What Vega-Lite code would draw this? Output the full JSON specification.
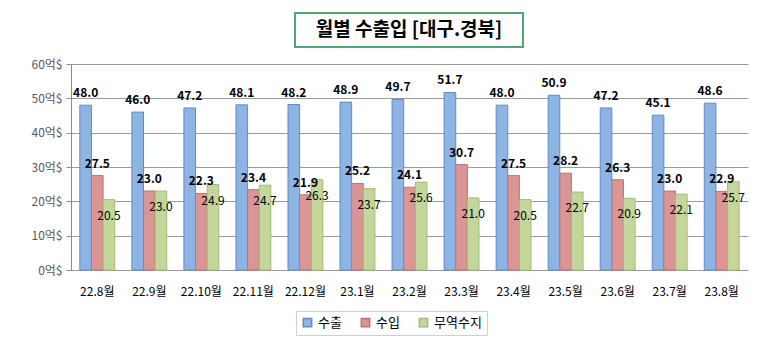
{
  "$schema": "https://vega.github.io/schema/vega-lite/v6.json",
  "background": "white",
  "padding": {"top": 12, "left": 30, "right": 5, "bottom": 5},
  "config": {"font": "Noto Sans CJK KR", "view": {"stroke": null}},
  "datasets": {
    "title": [{"t": "월별 수출입 [대구.경북]"}],
    "main": [
      {"month": "22.8월", "type": "수출", "value": 48.0},
      {"month": "22.8월", "type": "수입", "value": 27.5},
      {"month": "22.8월", "type": "무역수지", "value": 20.5},
      {"month": "22.9월", "type": "수출", "value": 46.0},
      {"month": "22.9월", "type": "수입", "value": 23.0},
      {"month": "22.9월", "type": "무역수지", "value": 23.0},
      {"month": "22.10월", "type": "수출", "value": 47.2},
      {"month": "22.10월", "type": "수입", "value": 22.3},
      {"month": "22.10월", "type": "무역수지", "value": 24.9},
      {"month": "22.11월", "type": "수출", "value": 48.1},
      {"month": "22.11월", "type": "수입", "value": 23.4},
      {"month": "22.11월", "type": "무역수지", "value": 24.7},
      {"month": "22.12월", "type": "수출", "value": 48.2},
      {"month": "22.12월", "type": "수입", "value": 21.9},
      {"month": "22.12월", "type": "무역수지", "value": 26.3},
      {"month": "23.1월", "type": "수출", "value": 48.9},
      {"month": "23.1월", "type": "수입", "value": 25.2},
      {"month": "23.1월", "type": "무역수지", "value": 23.7},
      {"month": "23.2월", "type": "수출", "value": 49.7},
      {"month": "23.2월", "type": "수입", "value": 24.1},
      {"month": "23.2월", "type": "무역수지", "value": 25.6},
      {"month": "23.3월", "type": "수출", "value": 51.7},
      {"month": "23.3월", "type": "수입", "value": 30.7},
      {"month": "23.3월", "type": "무역수지", "value": 21.0},
      {"month": "23.4월", "type": "수출", "value": 48.0},
      {"month": "23.4월", "type": "수입", "value": 27.5},
      {"month": "23.4월", "type": "무역수지", "value": 20.5},
      {"month": "23.5월", "type": "수출", "value": 50.9},
      {"month": "23.5월", "type": "수입", "value": 28.2},
      {"month": "23.5월", "type": "무역수지", "value": 22.7},
      {"month": "23.6월", "type": "수출", "value": 47.2},
      {"month": "23.6월", "type": "수입", "value": 26.3},
      {"month": "23.6월", "type": "무역수지", "value": 20.9},
      {"month": "23.7월", "type": "수출", "value": 45.1},
      {"month": "23.7월", "type": "수입", "value": 23.0},
      {"month": "23.7월", "type": "무역수지", "value": 22.1},
      {"month": "23.8월", "type": "수출", "value": 48.6},
      {"month": "23.8월", "type": "수입", "value": 22.9},
      {"month": "23.8월", "type": "무역수지", "value": 25.7}
    ]
  },
  "spacing": 10,
  "center": true,
  "vconcat": [
    {
      "width": 228,
      "height": 34,
      "view": {"stroke": "#4EA874", "strokeWidth": 2},
      "data": {"name": "title"},
      "mark": {"type": "text", "fontSize": 19, "fontWeight": "bold", "color": "#000000"},
      "encoding": {"text": {"field": "t"}}
    },
    {
      "width": 677,
      "height": 206,
      "data": {"name": "main"},
      "encoding": {
        "x": {
          "field": "month", "type": "nominal",
          "sort": ["22.8월","22.9월","22.10월","22.11월","22.12월","23.1월","23.2월","23.3월","23.4월","23.5월","23.6월","23.7월","23.8월"],
          "scale": {"paddingInner": 0.33, "paddingOuter": 0.17},
          "axis": {"title": null, "labelAngle": 0, "ticks": false, "domain": false, "labelPadding": 16, "labelFontSize": 12, "labelColor": "#000000"}
        },
        "y": {
          "field": "value", "type": "quantitative",
          "scale": {"domain": [0, 60]},
          "axis": {"title": null, "values": [0,10,20,30,40,50,60], "labelExpr": "datum.value + '억$'", "grid": true, "gridColor": "#9a9a9a", "domainColor": "#8a8a8a", "tickColor": "#8a8a8a", "tickSize": 5, "labelColor": "#595959", "labelFontSize": 12, "labelPadding": 4}
        },
        "xOffset": {"field": "type", "type": "nominal", "sort": ["수출","수입","무역수지"]}
      },
      "layer": [
        {
          "mark": {"type": "bar", "strokeWidth": 1},
          "encoding": {
            "color": {
              "field": "type", "type": "nominal",
              "scale": {"domain": ["수출","수입","무역수지"], "range": ["#8EB4E3","#D99694","#C3D69B"]},
              "legend": {"title": null, "orient": "none", "legendX": 225, "legendY": 298, "direction": "horizontal", "symbolType": "square", "symbolSize": 70, "labelFontSize": 13, "labelColor": "#000000", "columnPadding": 16, "strokeColor": "#d0d0d0", "padding": 5}
            },
            "stroke": {
              "field": "type", "type": "nominal",
              "scale": {"domain": ["수출","수입","무역수지"], "range": ["#5B8CC8","#C46F6C","#A2BC72"]},
              "legend": null
            }
          }
        },
        {
          "transform": [{"filter": "datum.type !== '무역수지'"}],
          "mark": {"type": "text", "baseline": "bottom", "dy": -5, "fontSize": 12, "fontWeight": "bold", "color": "#000000"},
          "encoding": {"text": {"field": "value", "type": "quantitative", "format": ".1f"}}
        },
        {
          "transform": [{"filter": "datum.type === '무역수지'"}],
          "mark": {"type": "text", "baseline": "middle", "dy": 16, "fontSize": 12, "color": "#000000"},
          "encoding": {"text": {"field": "value", "type": "quantitative", "format": ".1f"}}
        }
      ]
    }
  ]
}
